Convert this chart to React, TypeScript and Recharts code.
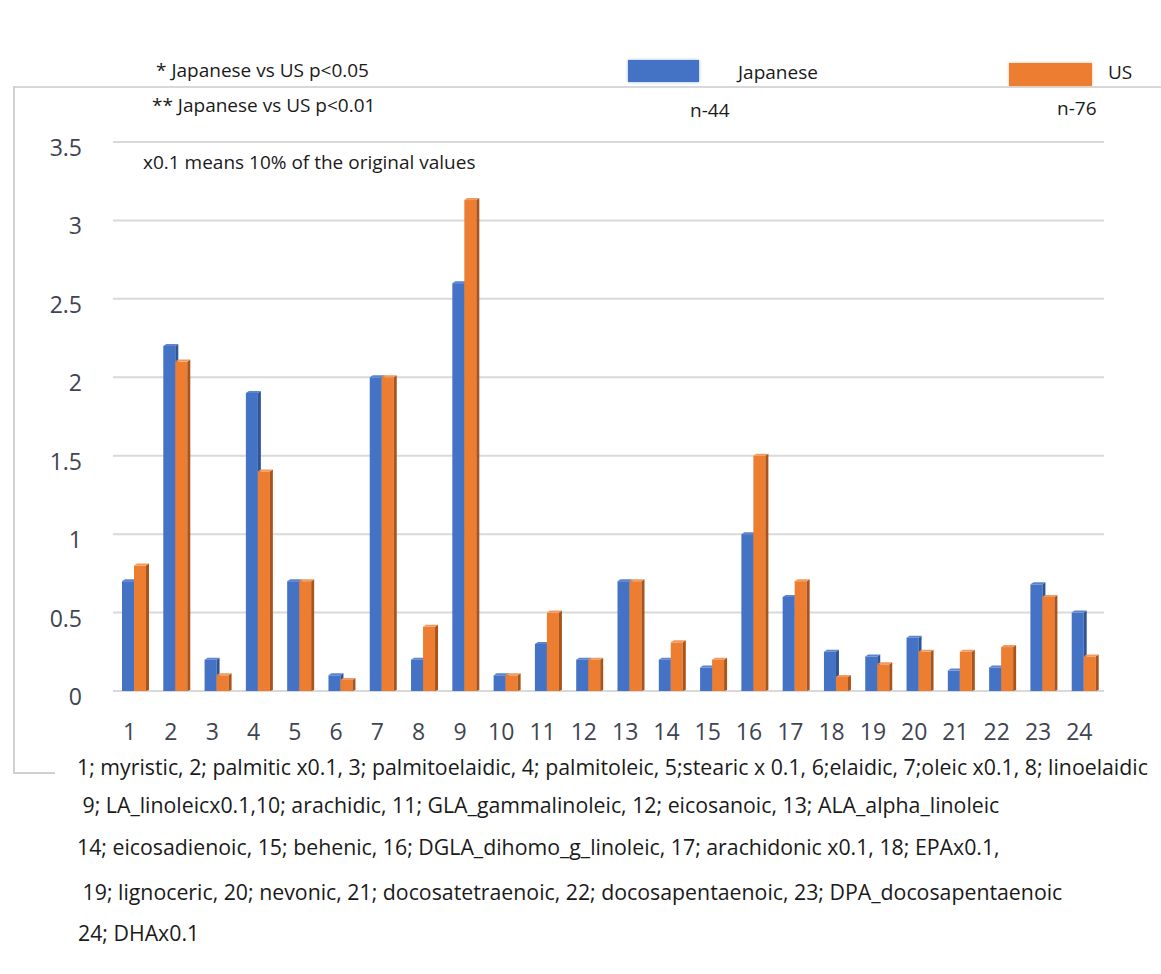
import React from "react";
import { BarChart, Bar, XAxis, YAxis, CartesianGrid } from "recharts";

const categories = ["1", "2", "3", "4", "5", "6", "7", "8", "9", "10", "11", "12", "13", "14", "15", "16", "17", "18", "19", "20", "21", "22", "23", "24"];
const japanese = [0.7, 2.2, 0.2, 1.9, 0.7, 0.1, 2.0, 0.2, 2.6, 0.1, 0.3, 0.2, 0.7, 0.2, 0.15, 1.0, 0.6, 0.25, 0.22, 0.34, 0.13, 0.15, 0.68, 0.5];
const us = [0.8, 2.1, 0.1, 1.4, 0.7, 0.07, 2.0, 0.41, 3.13, 0.1, 0.5, 0.2, 0.7, 0.31, 0.2, 1.5, 0.7, 0.09, 0.17, 0.25, 0.25, 0.28, 0.6, 0.22];
const yTicks = [0, 0.5, 1, 1.5, 2, 2.5, 3, 3.5];

const notes = [
  "1; myristic, 2; palmitic x0.1, 3; palmitoelaidic, 4; palmitoleic, 5;stearic x 0.1, 6;elaidic, 7;oleic x0.1, 8; linoelaidic",
  " 9; LA_linoleicx0.1,10; arachidic, 11; GLA_gammalinoleic, 12; eicosanoic, 13; ALA_alpha_linoleic",
  "14; eicosadienoic, 15; behenic, 16; DGLA_dihomo_g_linoleic, 17; arachidonic x0.1, 18; EPAx0.1,",
  " 19; lignoceric, 20; nevonic, 21; docosatetraenoic, 22; docosapentaenoic, 23; DPA_docosapentaenoic",
  "24; DHAx0.1",
];

const data = categories.map((c, i) => ({ cat: c, japanese: japanese[i], us: us[i] }));

const FONT = "'Open Sans', 'Noto Sans', sans-serif";
const TICK_COLOR = "#3e4452";

// front face + darker right side + light top, like the Excel 3-D column look
function Bar3D(props: any) {
  const { x, y, width, height, fill, side, cap } = props;
  if (!height || height <= 0) return null;
  const d = 3;
  return (
    <g>
      <rect x={x} y={y} width={width} height={height} fill={fill} />
      <polygon
        points={`${x + width},${y} ${x + width + d},${y - 2} ${x + width + d},${y + height - 1} ${x + width},${y + height}`}
        fill={side}
      />
      <polygon
        points={`${x},${y} ${x + d},${y - 2} ${x + width + d},${y - 2} ${x + width},${y}`}
        fill={cap}
      />
    </g>
  );
}

function XTick(props: any) {
  const { x, y, payload } = props;
  return (
    <text x={x - 4} y={y} textAnchor="middle" dominantBaseline="central" fontSize={23} fill={TICK_COLOR} fontFamily={FONT}>
      {payload.value}
    </text>
  );
}

function YTick(props: any) {
  const { x, y, payload } = props;
  return (
    <text x={x} y={y + 5} textAnchor="end" dominantBaseline="central" fontSize={23} fill={TICK_COLOR} fontFamily={FONT}>
      {payload.value}
    </text>
  );
}

const txt = (left: number, centerY: number, size: number): React.CSSProperties => ({
  position: "absolute",
  left,
  top: centerY - size * 0.7,
  fontSize: size,
  lineHeight: `${size * 1.4}px`,
  fontFamily: FONT,
  color: "#1a1a1a",
  whiteSpace: "pre",
});

export default function App() {
  return (
    <div style={{ position: "absolute", left: 0, top: 0, width: 1161, height: 974, background: "#fff", overflow: "hidden" }}>
      {/* faded frame from the scanned figure */}
      <div style={{ position: "absolute", left: 13, top: 86, width: 1148, height: 2, background: "#d8d8d8" }} />
      <div style={{ position: "absolute", left: 13, top: 86, width: 2, height: 688, background: "#d0d0d0" }} />
      <div style={{ position: "absolute", left: 13, top: 772, width: 42, height: 2, background: "#d0d0d0" }} />

      <BarChart
        width={1161}
        height={974}
        data={data}
        margin={{ top: 142, right: 57, bottom: 223, left: 53 }}
        barGap={0}
        barSize={12}
        style={{ position: "absolute", left: 0, top: 0 }}
      >
        <CartesianGrid horizontal vertical={false} stroke="#d9d9d9" strokeWidth={2} />
        <XAxis
          dataKey="cat"
          axisLine={false}
          tickLine={false}
          tickSize={0}
          tickMargin={40}
          height={60}
          interval={0}
          tick={<XTick />}
        />
        <YAxis
          domain={[0, 3.5]}
          ticks={yTicks}
          axisLine={false}
          tickLine={false}
          tickSize={0}
          tickMargin={31}
          width={60}
          tick={<YTick />}
        />
        <Bar dataKey="japanese" fill="#4472c4" isAnimationActive={false} shape={<Bar3D side="#2f5597" cap="#5b85d0" />} />
        <Bar dataKey="us" fill="#ed7d31" isAnimationActive={false} shape={<Bar3D side="#a9541c" cap="#f19a5c" />} />
      </BarChart>

      {/* legend / annotations */}
      <div style={txt(156, 70, 19)}>* Japanese vs US p&lt;0.05</div>
      <div style={txt(152, 105, 19)}>** Japanese vs US p&lt;0.01</div>
      <div style={txt(143, 162, 19)}>x0.1 means 10% of the original values</div>

      <div style={{ position: "absolute", left: 628, top: 60, width: 71, height: 22, background: "#4472c4", boxShadow: "0 0 3px #9ab3e0" }} />
      <div style={txt(738, 72, 19)}>Japanese</div>
      <div style={txt(690, 110, 19)}>n-44</div>

      <div style={{ position: "absolute", left: 1009, top: 63, width: 83, height: 23, background: "#ed7d31", boxShadow: "0 0 3px #f5c09a" }} />
      <div style={txt(1108, 72, 19)}>US</div>
      <div style={txt(1057, 108, 19)}>n-76</div>

      {/* footnote list */}
      <div style={txt(77, 767, 21.3)}>{notes[0]}</div>
      <div style={txt(77, 805, 21.3)}>{notes[1]}</div>
      <div style={txt(77, 847, 21.3)}>{notes[2]}</div>
      <div style={txt(77, 892, 21.3)}>{notes[3]}</div>
      <div style={txt(78, 933, 21.3)}>{notes[4]}</div>
    </div>
  );
}
